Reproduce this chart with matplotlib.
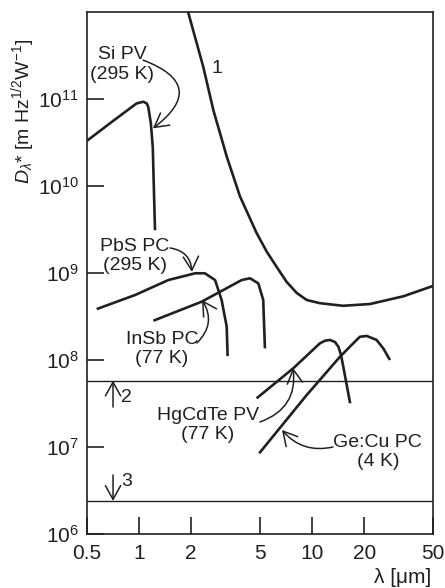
import matplotlib
matplotlib.use('Agg')
import matplotlib.pyplot as plt
from matplotlib.ticker import FixedLocator, NullLocator

plt.rcParams['font.family'] = ['Liberation Sans', 'DejaVu Sans']
plt.rcParams['mathtext.fontset'] = 'custom'
plt.rcParams['mathtext.rm'] = 'Liberation Sans'
plt.rcParams['mathtext.it'] = 'Liberation Sans:italic'

INK = '#231f20'

# curve 1: background limited detectivity
lam_blip = [1.92, 2.35, 2.69, 3.21, 3.83, 4.78, 5.47, 6.25, 7.13, 8.15, 9.31, 11.1, 15.1, 21.6, 33.7, 50]
d_blip = [1.0e12, 2.34e11, 7.4e10, 2.19e10, 7.6e9, 2.88e9, 1.76e9, 1.17e9, 7.9e8, 5.9e8, 4.9e8, 4.5e8,
          4.2e8, 4.4e8, 5.4e8, 7.1e8]

# detectors
lam_si = [0.5, 0.695, 0.968, 1.058, 1.107, 1.13, 1.17, 1.2, 1.236]
d_si = [3.31e10, 5.45e10, 8.9e10, 9.3e10, 8.9e10, 8.1e10, 5.25e10, 2.8e10, 3.1e9]

lam_pbs = [0.569, 0.947, 1.476, 2.11, 2.40, 2.75, 3.00, 3.21, 3.25]
d_pbs = [3.85e8, 5.58e8, 8.3e8, 9.93e8, 9.93e8, 8.3e8, 4.9e8, 2.42e8, 1.11e8]

lam_insb = [1.21, 2.30, 3.92, 4.38, 4.89, 5.22, 5.34]
d_insb = [2.83e8, 4.68e8, 8.3e8, 8.7e8, 7.6e8, 4.9e8, 1.36e8]

lam_hgcdte = [4.78, 7.79, 11.1, 11.88, 12.7, 13.57, 14.2, 14.7, 15.15, 16.6]
d_hgcdte = [3.63e7, 8.04e7, 1.556e8, 1.667e8, 1.70e8, 1.61e8, 1.42e8, 1.14e8, 8.4e7, 3.18e7]

lam_gecu = [4.95, 9.31, 14.5, 17.3, 18.9, 20.7, 23.6, 25.8, 28.2]
d_gecu = [8.47e6, 3.96e7, 1.09e8, 1.556e8, 1.85e8, 1.89e8, 1.70e8, 1.36e8, 1.0e8]

# horizontal limits 2 and 3
d_line2 = 5.8e7
d_line3 = 2.4e6

x_ticks = [0.5, 1, 2, 5, 10, 20, 50]
x_labels = ['0.5', '1', '2', '5', '10', '20', '50']
y_ticks = [1e6, 1e7, 1e8, 1e9, 1e10, 1e11]
y_labels = [r'$10^{6}$', r'$10^{7}$', r'$10^{8}$', r'$10^{9}$', r'$10^{10}$', r'$10^{11}$']

fig = plt.figure(figsize=(4.45, 5.88), dpi=100)
ax = fig.add_axes([0.1955, 0.0918, 0.7775, 0.8878])
ax.set_xscale('log')
ax.set_yscale('log')
ax.set_xlim(0.5, 50)
ax.set_ylim(1e6, 1e12)

lw = 1.9
for lam, d in [(lam_blip, d_blip), (lam_si, d_si), (lam_pbs, d_pbs), (lam_insb, d_insb),
               (lam_hgcdte, d_hgcdte), (lam_gecu, d_gecu)]:
    ax.plot(lam, d, color=INK, lw=lw, solid_capstyle='butt', solid_joinstyle='round')

ax.axhline(d_line2, color=INK, lw=1.0)
ax.axhline(d_line3, color=INK, lw=1.0)

ax.xaxis.set_major_locator(FixedLocator(x_ticks))
ax.xaxis.set_minor_locator(NullLocator())
ax.set_xticklabels(x_labels)
ax.yaxis.set_major_locator(FixedLocator(y_ticks))
ax.yaxis.set_minor_locator(NullLocator())
ax.set_yticklabels(y_labels)
ax.tick_params(direction='in', length=12, width=1.2, colors=INK, labelsize=15, top=False, right=False)
ax.tick_params(axis='x', pad=7)
ax.tick_params(axis='y', pad=6)
for s in ax.spines.values():
    s.set_color(INK)
    s.set_linewidth(1.2)

fs = 14
ls = 1.2
arrow = dict(arrowstyle='->,head_length=0.45,head_width=0.25', color=INK, lw=1.1,
             mutation_scale=22, shrinkA=0, shrinkB=0)

ax.text(0.797, 2.5e11, 'Si PV\n(295 K)', ha='center', va='center', fontsize=fs, color=INK, linespacing=ls)
ax.annotate('', xy=(1.203, 4.6e10), xytext=(1.054, 2.8e11),
            arrowprops=dict(arrow, connectionstyle='arc3,rad=-0.9'))
ax.text(2.82, 2.27e11, '1', ha='center', va='center', fontsize=fs, color=INK)

ax.text(0.947, 1.57e9, 'PbS PC\n(295 K)', ha='center', va='center', fontsize=fs, color=INK, linespacing=ls)
ax.annotate('', xy=(2.02, 1.03e9), xytext=(1.509, 1.94e9),
            arrowprops=dict(arrow, connectionstyle='arc3,rad=-0.4'))

ax.text(1.357, 1.34e8, 'InSb PC\n(77 K)', ha='center', va='center', fontsize=fs, color=INK, linespacing=ls)
ax.annotate('', xy=(2.31, 4.9e8), xytext=(2.16, 1.57e8),
            arrowprops=dict(arrow, connectionstyle='arc3,rad=0.4'))

ax.annotate('', xy=(0.707, d_line2), xytext=(0.707, 2.88e7), arrowprops=arrow)
ax.text(0.786, 3.66e7, '2', ha='left', va='center', fontsize=fs, color=INK)
ax.annotate('', xy=(0.707, d_line3), xytext=(0.707, 4.77e6), arrowprops=arrow)
ax.text(0.786, 3.97e6, '3', ha='left', va='center', fontsize=fs, color=INK)

ax.text(2.5, 1.79e7, 'HgCdTe PV\n(77 K)', ha='center', va='center', fontsize=fs, color=INK, linespacing=ls)
ax.annotate('', xy=(7.76, 8.1e7), xytext=(5.0, 1.94e7),
            arrowprops=dict(arrow, connectionstyle='arc3,rad=0.4'))

ax.text(24.0, 8.8e6, 'Ge:Cu PC\n(4 K)', ha='center', va='center', fontsize=fs, color=INK, linespacing=ls)
ax.annotate('', xy=(6.7, 1.57e7), xytext=(13.2, 1.0e7),
            arrowprops=dict(arrow, connectionstyle='arc3,rad=-0.3'))

fig.text(23 / 445, 1 - 111 / 588, r'$D_{\lambda}$* [m Hz$^{1/2}$W$^{-1}$]', rotation=90,
         ha='center', va='center', fontsize=14, color=INK)
fig.text(431 / 445, 1 - 583 / 588, 'λ [μm]', ha='right', va='baseline', fontsize=15, color=INK)

fig.savefig('out.png', dpi=100)
